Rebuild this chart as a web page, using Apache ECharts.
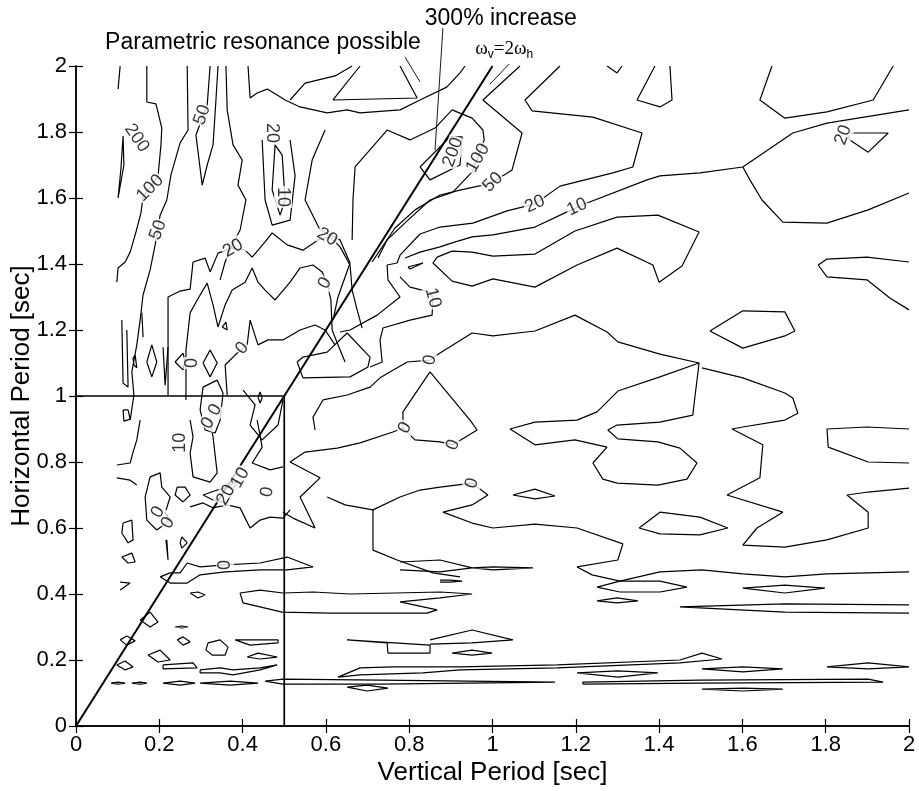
<!DOCTYPE html>
<html><head><meta charset="utf-8">
<script src="https://cdn.jsdelivr.net/npm/echarts@6/dist/echarts.min.js"></script>
<style>html,body{margin:0;padding:0;background:#fff}#c{width:919px;height:791px}</style>
</head><body><div id="c"></div>
<script>
// ---------- axes ----------
const xRange = [0, 2];
const yRange = [0, 2];
const tickStep = 0.2;

// ---------- reference lines ----------
const omegaLine = [[0, 0], [1, 2]];
const horizontalRef = [[0, 1], [0.5, 1]];
const verticalRef = [[0.5, 0], [0.5, 1]];

// ---------- contour polylines (data coordinates: [vertical period, horizontal period]) ----------
const upperLeftContours = [
  [[0.106,2.0],[0.101,1.930]],
  [[0.113,1.788],[0.115,1.700],[0.101,1.600],[0.108,1.691],[0.113,1.788]],
  [[0.170,2.0],[0.170,1.891],[0.192,1.885],[0.206,1.812],[0.204,1.761],[0.197,1.667],[0.161,1.603],[0.156,1.555],[0.144,1.497],[0.130,1.436],[0.118,1.406],[0.101,1.388],[0.098,1.345]],
  [[0.267,2.0],[0.269,1.806],[0.250,1.767],[0.228,1.670],[0.218,1.594],[0.202,1.548],[0.190,1.458],[0.178,1.382],[0.161,1.306],[0.154,1.230],[0.146,1.155],[0.134,1.073],[0.139,1.003],[0.130,0.927]],
  [[0.322,2.0],[0.315,1.882],[0.288,1.791],[0.303,1.639],[0.315,1.700],[0.329,1.761],[0.336,1.897],[0.341,2.0]],
  [[0.360,2.0],[0.363,1.867],[0.377,1.761],[0.399,1.715],[0.389,1.639],[0.408,1.594],[0.394,1.503],[0.375,1.458],[0.358,1.406],[0.346,1.352]],
  [[0.413,2.0],[0.418,1.903],[0.435,1.918],[0.459,1.930],[0.483,1.912],[0.502,1.897],[0.538,1.876],[0.603,1.858],[0.651,1.867],[0.682,1.858],[0.778,1.867],[0.826,1.897],[0.890,1.936],[0.922,1.979],[0.934,2.0]],
  [[0.682,2.0],[0.617,1.897],[0.819,1.903],[0.778,2.0]],
  [[0.514,1.897],[0.550,1.948],[0.622,1.970],[0.663,2.0]],
  [[0.478,1.761],[0.495,1.730],[0.502,1.594],[0.490,1.548],[0.471,1.624],[0.478,1.761]],
  [[0.447,1.776],[0.454,1.594],[0.471,1.518],[0.514,1.533],[0.526,1.667],[0.514,1.776]]
];

const upperRightContours = [
  [[0.663,1.473],[0.665,1.594],[0.670,1.694],[0.747,1.806],[0.802,1.776],[0.862,1.812],[0.903,1.867],[0.951,1.842],[0.977,1.806],[0.980,1.776],[0.965,1.721],[0.951,1.679],[0.905,1.618],[0.850,1.594],[0.797,1.533],[0.747,1.473],[0.725,1.418]],
  [[0.826,1.694],[0.898,1.785],[0.927,1.785],[0.922,1.700],[0.850,1.655],[0.826,1.694]],
  [[1.066,2.0],[0.977,1.897],[1.071,1.797],[1.047,1.685],[1.006,1.652],[0.977,1.639],[0.922,1.624],[0.874,1.609],[0.814,1.564],[0.766,1.509],[0.730,1.442],[0.711,1.406]],
  [[0.598,1.806],[0.567,1.715],[0.550,1.594],[0.586,1.503],[0.634,1.473],[0.658,1.403],[0.629,1.300],[0.617,1.230]],
  [[1.162,2.0],[1.078,1.897],[1.095,1.864],[1.241,1.845],[1.359,1.797],[1.337,1.694],[1.289,1.676],[1.162,1.636],[1.102,1.582],[1.035,1.561],[0.953,1.524],[0.874,1.512],[0.826,1.491],[0.778,1.427],[0.771,1.403]],
  [[2.0,1.867],[1.803,1.827],[1.721,1.797],[1.601,1.694],[1.498,1.676],[1.402,1.667],[1.371,1.655],[1.227,1.585],[1.179,1.558],[1.102,1.512],[1.001,1.488],[0.951,1.482],[0.903,1.464],[0.874,1.452],[0.826,1.436],[0.790,1.418]],
  [[1.601,1.694],[1.618,1.655],[1.647,1.594],[1.697,1.527],[1.803,1.524],[1.902,1.564],[2.0,1.615]],
  [[1.390,2.0],[1.347,1.897],[1.402,1.876],[1.431,1.897],[1.426,2.0]],
  [[1.671,2.0],[1.642,1.897],[1.702,1.842],[1.803,1.861],[1.914,1.897],[1.962,2.0]],
  [[1.851,1.797],[1.950,1.797],[1.902,1.739],[1.858,1.776],[1.851,1.797]],
  [[1.275,2.0],[1.299,1.979],[1.311,2.0]],
  [[0.867,1.421],[0.903,1.439],[0.951,1.436],[1.001,1.424],[1.102,1.430],[1.198,1.500],[1.299,1.542],[1.397,1.548],[1.496,1.497],[1.455,1.394],[1.400,1.345],[1.385,1.397],[1.299,1.448],[1.203,1.397],[1.102,1.330],[1.001,1.355],[0.951,1.333],[0.903,1.348],[0.857,1.403],[0.867,1.421]],
  [[0.771,1.403],[0.747,1.397],[0.749,1.352],[0.778,1.300],[0.723,1.245],[0.658,1.200],[0.634,1.194]],
  [[0.778,1.361],[0.802,1.330],[0.850,1.315],[0.857,1.297],[0.855,1.245],[0.802,1.230],[0.737,1.206],[0.730,1.170],[0.735,1.103],[0.706,1.088]],
  [[0.797,1.391],[0.833,1.403],[0.802,1.385],[0.797,1.391]],
  [[2.0,1.406],[1.899,1.421],[1.803,1.415],[1.782,1.397],[1.803,1.361],[1.899,1.352],[1.954,1.297],[2.0,1.261]],
  [[1.522,1.197],[1.601,1.258],[1.702,1.255],[1.726,1.197],[1.702,1.182],[1.601,1.145],[1.522,1.197]]
];

const middleContours = [
  [[0.221,1.003],[0.221,1.300],[0.250,1.318],[0.274,1.324],[0.281,1.406],[0.310,1.418],[0.322,1.376],[0.341,1.433],[0.375,1.448],[0.406,1.442],[0.423,1.421],[0.454,1.467],[0.471,1.494],[0.507,1.458],[0.545,1.442],[0.581,1.473],[0.610,1.482],[0.634,1.452],[0.658,1.397],[0.663,1.321],[0.675,1.261],[0.687,1.206]],
  [[0.264,0.988],[0.264,1.139],[0.274,1.252],[0.291,1.291],[0.315,1.342],[0.329,1.276],[0.341,1.209],[0.358,1.276],[0.375,1.321],[0.406,1.345],[0.423,1.388],[0.437,1.345],[0.454,1.321],[0.478,1.291],[0.514,1.345],[0.538,1.388],[0.569,1.397],[0.591,1.376],[0.603,1.342],[0.612,1.291],[0.615,1.200],[0.629,1.155],[0.646,1.103]],
  [[0.363,1.003],[0.358,1.094],[0.382,1.124],[0.411,1.155],[0.418,1.230],[0.437,1.155],[0.461,1.170],[0.497,1.170],[0.538,1.200],[0.574,1.215],[0.598,1.200],[0.622,1.155]],
  [[0.170,1.103],[0.182,1.155],[0.194,1.103],[0.182,1.058],[0.170,1.103]],
  [[0.238,1.103],[0.257,1.130],[0.262,1.103],[0.257,1.079],[0.238,1.103]],
  [[0.305,1.100],[0.322,1.139],[0.339,1.100],[0.322,1.058],[0.305,1.100]],
  [[0.137,1.115],[0.142,1.124],[0.146,1.085],[0.139,1.094],[0.137,1.115]],
  [[0.209,1.148],[0.214,1.033],[0.221,1.148]],
  [[0.110,1.230],[0.113,1.039],[0.125,1.027],[0.122,1.200]],
  [[0.158,1.252],[0.161,1.179]],
  [[0.351,1.209],[0.360,1.224],[0.363,1.200],[0.351,1.209]],
  [[0.531,1.103],[0.545,1.118],[0.603,1.133],[0.651,1.191],[0.706,1.118],[0.701,1.088],[0.658,1.058],[0.545,1.055],[0.531,1.103]],
  [[1.496,1.100],[1.402,1.127],[1.301,1.164],[1.275,1.194],[1.198,1.245],[1.102,1.197],[1.001,1.182],[0.951,1.191],[0.874,1.130],[0.850,1.109],[0.795,1.103],[0.730,1.055],[0.706,1.027],[0.651,1.003],[0.593,0.988],[0.569,0.936],[0.574,0.897]],
  [[1.496,1.100],[1.402,1.058],[1.301,1.015],[1.251,0.952],[1.203,0.927],[1.102,0.921],[1.042,0.900],[1.102,0.852],[1.198,0.867],[1.275,0.845],[1.241,0.797],[1.265,0.748],[1.299,0.736],[1.397,0.730],[1.467,0.748],[1.491,0.797],[1.450,0.842],[1.397,0.861],[1.301,0.870],[1.277,0.897],[1.299,0.912],[1.402,0.921],[1.481,0.942],[1.486,0.997],[1.496,1.100]],
  [[1.503,1.085],[1.601,1.055],[1.702,1.009],[1.721,0.994],[1.733,0.948],[1.702,0.927],[1.601,0.906],[1.575,0.900],[1.649,0.852],[1.642,0.752],[1.563,0.700],[1.697,0.648],[1.635,0.600],[1.601,0.548],[1.702,0.542],[1.803,0.564],[1.902,0.600],[1.902,0.648],[1.851,0.700],[1.902,0.709],[2.0,0.721]],
  [[2.0,0.900],[1.899,0.906],[1.803,0.900],[1.806,0.845],[1.902,0.800],[2.0,0.797]],
  [[0.850,1.073],[0.946,0.927],[0.963,0.897],[0.905,0.852],[0.874,0.861],[0.814,0.867],[0.785,0.903],[0.785,0.952],[0.850,1.073]],
  [[0.514,0.800],[0.550,0.830],[0.627,0.842],[0.682,0.858],[0.761,0.891],[0.785,0.903]],
  [[1.049,0.700],[1.102,0.718],[1.150,0.697],[1.102,0.688],[1.049,0.700]],
  [[1.352,0.600],[1.402,0.648],[1.498,0.633],[1.565,0.600],[1.498,0.579],[1.402,0.582],[1.352,0.600]],
  [[0.603,0.694],[0.646,0.670],[0.713,0.655],[0.778,0.694],[0.826,0.715],[0.874,0.724],[0.951,0.736],[0.989,0.700],[0.951,0.670],[0.881,0.648],[0.951,0.615],[1.001,0.600],[1.102,0.612],[1.203,0.600],[1.313,0.552],[1.301,0.503],[1.203,0.482],[1.239,0.458],[1.306,0.439],[1.402,0.467],[1.503,0.473],[1.601,0.461],[1.702,0.452],[1.803,0.461],[2.0,0.467]],
  [[0.713,0.655],[0.713,0.533],[0.771,0.503],[0.857,0.464],[0.922,0.452]],
  [[0.113,0.958],[0.125,0.958],[0.130,0.930],[0.115,0.924],[0.113,0.958]],
  [[0.305,1.027],[0.339,1.048],[0.353,1.009],[0.346,0.927],[0.334,0.888],[0.310,0.897],[0.298,0.958],[0.305,1.027]],
  [[0.437,0.997],[0.442,1.012],[0.447,0.994],[0.442,0.979],[0.437,0.997]],
  [[0.401,1.018],[0.430,0.973],[0.418,0.912],[0.447,0.867],[0.485,0.912],[0.497,0.988]],
  [[0.514,0.800],[0.586,0.752],[0.538,0.694],[0.574,0.600],[0.521,0.630],[0.497,0.648]],
  [[0.098,0.791],[0.130,0.797],[0.137,0.830],[0.146,0.867],[0.154,0.927]],
  [[0.098,0.752],[0.130,0.745],[0.146,0.730]],
  [[0.274,0.927],[0.281,0.876],[0.274,0.827],[0.281,0.755],[0.322,0.739],[0.339,0.767],[0.329,0.876],[0.322,0.927]],
  [[0.178,0.755],[0.202,0.767],[0.206,0.724],[0.226,0.694],[0.214,0.645],[0.226,0.624],[0.194,0.594],[0.170,0.624],[0.166,0.694],[0.178,0.755]],
  [[0.243,0.724],[0.262,0.724],[0.274,0.700],[0.257,0.679],[0.238,0.700],[0.243,0.724]],
  [[0.274,0.664],[0.305,0.676],[0.329,0.661],[0.363,0.670],[0.394,0.661],[0.418,0.600],[0.442,0.624],[0.466,0.633],[0.497,0.630],[0.514,0.655]],
  [[0.305,0.700],[0.339,0.715],[0.365,0.724],[0.387,0.745],[0.377,0.715],[0.363,0.676],[0.329,0.685],[0.305,0.700]],
  [[0.435,0.927],[0.447,0.845],[0.423,0.797],[0.466,0.776],[0.497,0.785]]
];

const lowerContours = [
  [[0.202,0.452],[0.226,0.464],[0.250,0.464],[0.267,0.494],[0.298,0.482],[0.358,0.488],[0.442,0.494],[0.507,0.512],[0.569,0.482],[0.507,0.473],[0.442,0.473],[0.358,0.467],[0.298,0.458],[0.267,0.433],[0.226,0.433],[0.202,0.452]],
  [[0.951,0.479],[1.001,0.482],[1.097,0.479],[1.001,0.473],[0.951,0.479]],
  [[0.778,0.497],[0.874,0.503],[0.951,0.479],[0.874,0.467],[0.778,0.473]],
  [[1.251,0.421],[1.306,0.439],[1.402,0.439],[1.467,0.421],[1.402,0.406],[1.306,0.406],[1.251,0.421]],
  [[1.601,0.418],[1.702,0.427],[1.798,0.418],[1.702,0.403],[1.601,0.418]],
  [[0.874,0.442],[0.898,0.442],[0.927,0.439],[0.898,0.436],[0.874,0.436]],
  [[0.569,0.406],[0.658,0.400],[0.874,0.406],[0.951,0.400],[0.874,0.388],[0.778,0.376],[0.867,0.352],[0.843,0.342],[0.610,0.342],[0.495,0.345],[0.401,0.373],[0.394,0.403],[0.442,0.412],[0.497,0.403],[0.569,0.406]],
  [[1.251,0.379],[1.299,0.388],[1.349,0.379],[1.299,0.373],[1.251,0.379]],
  [[2.0,0.367],[1.702,0.370],[1.450,0.361],[1.702,0.345],[2.0,0.342]],
  [[0.850,0.261],[0.951,0.291],[1.049,0.261],[0.951,0.252],[0.850,0.248]],
  [[0.651,0.261],[0.747,0.252],[0.749,0.221],[0.850,0.221],[0.850,0.245],[0.651,0.261]],
  [[0.903,0.221],[0.951,0.230],[0.999,0.221],[0.951,0.215],[0.903,0.221]],
  [[0.629,0.148],[0.682,0.176],[0.761,0.179],[0.922,0.179],[1.155,0.185],[1.450,0.200],[1.503,0.221],[1.551,0.203],[1.450,0.191],[1.155,0.176],[0.922,0.170],[0.833,0.161],[0.682,0.155],[0.629,0.148]],
  [[1.203,0.161],[1.301,0.167],[1.397,0.161],[1.301,0.148],[1.203,0.161]],
  [[1.503,0.173],[1.601,0.179],[1.697,0.173],[1.601,0.164],[1.503,0.173]],
  [[1.803,0.179],[1.902,0.191],[2.0,0.179],[1.902,0.173],[1.803,0.179]],
  [[1.217,0.127],[1.498,0.130],[1.938,0.133],[1.902,0.142],[1.498,0.139],[1.217,0.133],[1.217,0.127]],
  [[0.454,0.136],[0.497,0.142],[0.730,0.139],[1.150,0.133],[0.730,0.127],[0.497,0.127],[0.454,0.136]],
  [[0.209,0.130],[0.250,0.136],[0.286,0.130],[0.250,0.124],[0.209,0.130]],
  [[0.298,0.130],[0.370,0.136],[0.437,0.130],[0.370,0.124],[0.298,0.130]],
  [[1.503,0.112],[1.601,0.115],[1.697,0.112],[1.601,0.106],[1.503,0.112]],
  [[0.651,0.118],[0.699,0.124],[0.749,0.115],[0.699,0.106],[0.651,0.118]],
  [[0.209,0.185],[0.281,0.191],[0.291,0.176],[0.209,0.173],[0.209,0.185]],
  [[0.298,0.170],[0.346,0.176],[0.377,0.170],[0.442,0.176],[0.483,0.185],[0.442,0.170],[0.377,0.155],[0.346,0.161],[0.298,0.161],[0.298,0.170]],
  [[0.317,0.252],[0.346,0.261],[0.365,0.239],[0.358,0.215],[0.327,0.215],[0.312,0.230],[0.317,0.252]],
  [[0.411,0.209],[0.437,0.221],[0.483,0.209],[0.442,0.203],[0.411,0.209]],
  [[0.382,0.261],[0.485,0.261],[0.485,0.252],[0.418,0.245],[0.382,0.261]],
  [[0.243,0.261],[0.257,0.270],[0.274,0.255],[0.257,0.245],[0.243,0.261]],
  [[0.274,0.403],[0.293,0.406],[0.310,0.397],[0.293,0.388],[0.274,0.403]],
  [[0.238,0.300],[0.254,0.303],[0.269,0.300],[0.254,0.297],[0.238,0.300]],
  [[0.110,0.512],[0.134,0.524],[0.142,0.497],[0.125,0.494],[0.110,0.512]],
  [[0.106,0.436],[0.130,0.433],[0.106,0.412]],
  [[0.113,0.615],[0.134,0.624],[0.137,0.564],[0.125,0.555],[0.110,0.585],[0.113,0.615]],
  [[0.218,0.564],[0.221,0.503],[0.216,0.564]],
  [[0.254,0.573],[0.267,0.555],[0.254,0.539],[0.250,0.555],[0.254,0.573]],
  [[0.106,0.261],[0.122,0.273],[0.142,0.258],[0.122,0.245],[0.106,0.261]],
  [[0.098,0.185],[0.118,0.197],[0.137,0.179],[0.118,0.170],[0.098,0.185]],
  [[0.154,0.321],[0.178,0.345],[0.197,0.315],[0.178,0.300],[0.154,0.321]],
  [[0.173,0.215],[0.202,0.230],[0.226,0.200],[0.197,0.194],[0.173,0.215]],
  [[0.084,0.130],[0.101,0.133],[0.118,0.130],[0.101,0.127],[0.084,0.130]],
  [[0.134,0.130],[0.154,0.133],[0.170,0.130],[0.154,0.127],[0.134,0.130]]
];

// ---------- contour labels ----------
const labelPoints = [
  [0.146,1.782],[0.178,1.630],[0.197,1.503],[0.303,1.852],[0.471,1.797],[0.497,1.603],
  [0.377,1.448],[0.603,1.482],[0.598,1.342],[0.857,1.297],[0.399,1.145],[0.279,1.100],
  [0.850,1.109],[0.790,0.903],[0.905,0.852],[0.951,0.736],[0.334,0.958],[0.317,0.918],
  [0.250,0.858],[0.197,0.648],[0.221,0.615],[0.360,0.700],[0.394,0.752],[0.459,0.709],
  [0.358,0.488],[0.905,1.739],[0.965,1.721],[1.001,1.648],[1.102,1.582],[1.203,1.573],[1.842,1.791]
];
const labelTexts = [
  '200','100','50','50','20','10',
  '20','20','0','10','0','0',
  '0','0','0','0','0','0',
  '10','0','0','20','10','0',
  '0','200','100','50','20','10','20'
];
const labelAngles = [
  -55,45,70,70,-90,-90,
  30,-30,60,-75,50,90,
  80,60,70,75,60,60,
  90,60,60,60,60,80,
  90,70,60,45,25,25,70
];

// ---------- annotations ----------
const annotationTexts = ['Parametric resonance possible', '300% increase'];
const annotationAnchors = [[0.449, 2.070], [1.020, 2.142]];
const omegaLabelAnchor = [1.028, 2.050];
const leaderLines = [
  [[0.790,2.027],[0.826,1.952]],
  [[0.881,2.115],[0.862,1.745]],
  [[1.040,2.006],[0.994,1.945]]
];

// ---------- build chart ----------
const font = "'Liberation Sans', Arial, Helvetica, sans-serif";
const chart = echarts.init(document.getElementById('c'));
const series = [];
[upperLeftContours, upperRightContours, middleContours, lowerContours].forEach(group => {
  group.forEach(pts => series.push({
    type: 'line', data: pts, symbol: 'none', showSymbol: false, silent: true,
    lineStyle: { color: '#000', width: 1.2 }, z: 2, animation: false
  }));
});
[[omegaLine, 2], [horizontalRef, 1.7], [verticalRef, 1.7]].forEach(([pts, w]) => series.push({
  type: 'line', data: pts, symbol: 'none', silent: true,
  lineStyle: { color: '#000', width: w }, z: 3, animation: false
}));
leaderLines.forEach(pts => series.push({
  type: 'line', data: pts, symbol: 'none', silent: true, clip: false,
  lineStyle: { color: '#000', width: 0.9 }, z: 3, animation: false
}));
series.push({
  type: 'scatter', symbolSize: 1, silent: true, animation: false, z: 5,
  itemStyle: { color: 'transparent' },
  data: labelPoints.map((p, i) => ({ value: p, label: { rotate: labelAngles[i], formatter: labelTexts[i] } })),
  label: { show: true, position: 'inside', color: '#000', fontSize: 18, fontFamily: font,
           backgroundColor: '#fff', padding: [0, 1] }
});

const axisCommon = {
  type: 'value', min: xRange[0], max: xRange[1], interval: tickStep,
  axisLine: { show: true, lineStyle: { color: '#000', width: 1.5 } },
  axisTick: { show: true, inside: true, length: 7, lineStyle: { color: '#000', width: 1.2 } },
  splitLine: { show: false }
};

chart.setOption({
  backgroundColor: '#fff',
  animation: false,
  grid: { left: 76, right: 10, top: 66, bottom: 65, containLabel: false, outerBoundsMode: 'none' },
  xAxis: [
    Object.assign({}, axisCommon, {
      position: 'bottom',
      axisLabel: { color: '#000', fontSize: 22, fontFamily: font, margin: 8 },
      name: 'Vertical Period [sec]', nameLocation: 'middle', nameGap: 34, nameMoveOverlap: false,
      nameTextStyle: { color: '#000', fontSize: 26, fontFamily: font }
    }),
    Object.assign({}, axisCommon, { position: 'top', axisLabel: { show: false } })
  ],
  yAxis: [
    Object.assign({}, axisCommon, {
      min: yRange[0], max: yRange[1], position: 'left',
      axisLabel: { color: '#000', fontSize: 22, fontFamily: font, margin: 9 },
      name: 'Horizontal Period [sec]', nameLocation: 'middle', nameGap: 41, nameMoveOverlap: false,
      nameTextStyle: { color: '#000', fontSize: 26, fontFamily: font }
    }),
    Object.assign({}, axisCommon, { min: yRange[0], max: yRange[1], position: 'right', axisLabel: { show: false } })
  ],
  series: series
});

// annotation texts positioned through the chart's own scales
const graphics = annotationTexts.map((t, i) => {
  const p = chart.convertToPixel({ gridIndex: 0 }, annotationAnchors[i]);
  return { type: 'text', x: p[0], y: p[1], z: 10,
    style: { text: t, fill: '#000', font: '23px ' + font, align: 'center', verticalAlign: 'middle' } };
});
const op = chart.convertToPixel({ gridIndex: 0 }, omegaLabelAnchor);
graphics.push({ type: 'text', x: op[0], y: op[1], z: 10,
  style: {
    text: '{w|ω}{s|v}{w|=2ω}{s|h}', align: 'center', verticalAlign: 'middle',
    rich: {
      w: { fontFamily: "'Liberation Serif', 'Times New Roman', serif", fontSize: 19, fill: '#000' },
      s: { fontFamily: font, fontSize: 12, fill: '#000', padding: [10, 0, 0, 0] }
    }
  }
});
chart.setOption({ graphic: graphics });
</script>
</body></html>
